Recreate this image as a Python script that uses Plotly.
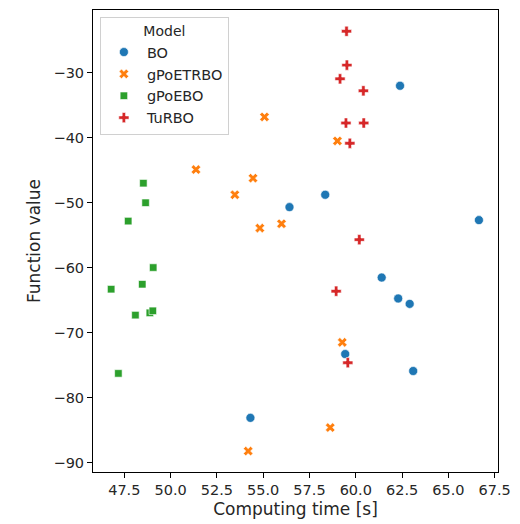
import plotly.graph_objects as go

models = ["BO", "gPoETRBO", "gPoEBO", "TuRBO"]

bo_time = [62.39, 56.42, 58.35, 66.65, 61.40, 62.29, 62.91, 59.43, 63.10, 54.31]
bo_value = [-32.04, -50.71, -48.81, -52.71, -61.55, -64.77, -65.60, -73.32, -75.93, -83.14]

gpoetrbo_time = [55.07, 59.01, 54.45, 53.47, 51.37, 54.82, 55.99, 59.27, 58.62, 54.19]
gpoetrbo_value = [-36.84, -40.53, -46.26, -48.81, -44.93, -53.94, -53.27, -71.52, -84.63, -88.25]

gpoebo_time = [48.53, 48.65, 47.71, 49.06, 46.79, 48.47, 48.10, 48.88, 49.04, 47.18]
gpoebo_value = [-47.03, -50.04, -52.86, -60.01, -63.34, -62.58, -67.33, -66.98, -66.67, -76.30]

turbo_time = [59.50, 59.52, 59.15, 60.41, 59.47, 60.43, 59.68, 60.19, 58.94, 59.57]
turbo_value = [-23.65, -28.86, -30.97, -32.81, -37.77, -37.77, -40.89, -55.72, -63.65, -74.65]

x_ticks = [47.5, 50.0, 52.5, 55.0, 57.5, 60.0, 62.5, 65.0, 67.5]
y_ticks = [-30, -40, -50, -60, -70, -80, -90]

colors = ["#1f77b4", "#ff7f0e", "#2ca02c", "#d62728"]
symbols = ["circle", "x", "square", "cross"]
sizes = [9, 8.5, 7.5, 8.5]
series = [(bo_time, bo_value), (gpoetrbo_time, gpoetrbo_value),
          (gpoebo_time, gpoebo_value), (turbo_time, turbo_value)]

fig = go.Figure()
for name, (xs, ys), c, s, sz in zip(models, series, colors, symbols, sizes):
    fig.add_trace(go.Scatter(
        x=xs, y=ys, mode="markers", name=name, legendgroup=name,
        marker=dict(color=c, symbol=s, size=sz, line=dict(color="white", width=0.6)),
    ))

font = "DejaVu Sans"
fig.update_layout(
    width=520, height=524,
    margin=dict(l=93, r=16, t=9, b=52),
    plot_bgcolor="white", paper_bgcolor="white",
    font=dict(family=font, color="#262626"),
    showlegend=True,
    legend=dict(
        x=0.017, y=0.985, xanchor="left", yanchor="top",
        bordercolor="#d0d0d0", borderwidth=1, bgcolor="rgba(255,255,255,0.8)",
        font=dict(family=font, size=14.5, color="#262626"),
        title=dict(text="Model", side="top center", font=dict(family=font, size=14)),
        itemwidth=36, tracegroupgap=0,
    ),
    xaxis=dict(
        range=[45.81, 67.68], tickvals=x_ticks,
        ticktext=[f"{v:.1f}" for v in x_ticks],
        showline=True, linecolor="black", linewidth=1, mirror=True,
        ticks="outside", ticklen=5, tickcolor="black", showgrid=False, zeroline=False,
        tickfont=dict(size=14.5),
        title=dict(text="Computing time [s]", font=dict(size=17), standoff=5),
    ),
    yaxis=dict(
        range=[-91.47, -20.38], tickvals=y_ticks,
        showline=True, linecolor="black", linewidth=1, mirror=True,
        ticks="outside", ticklen=5, tickcolor="black", showgrid=False, zeroline=False,
        tickfont=dict(size=14.5),
        title=dict(text="Function value", font=dict(size=17), standoff=8),
    ),
)

fig.write_html("out.html")
